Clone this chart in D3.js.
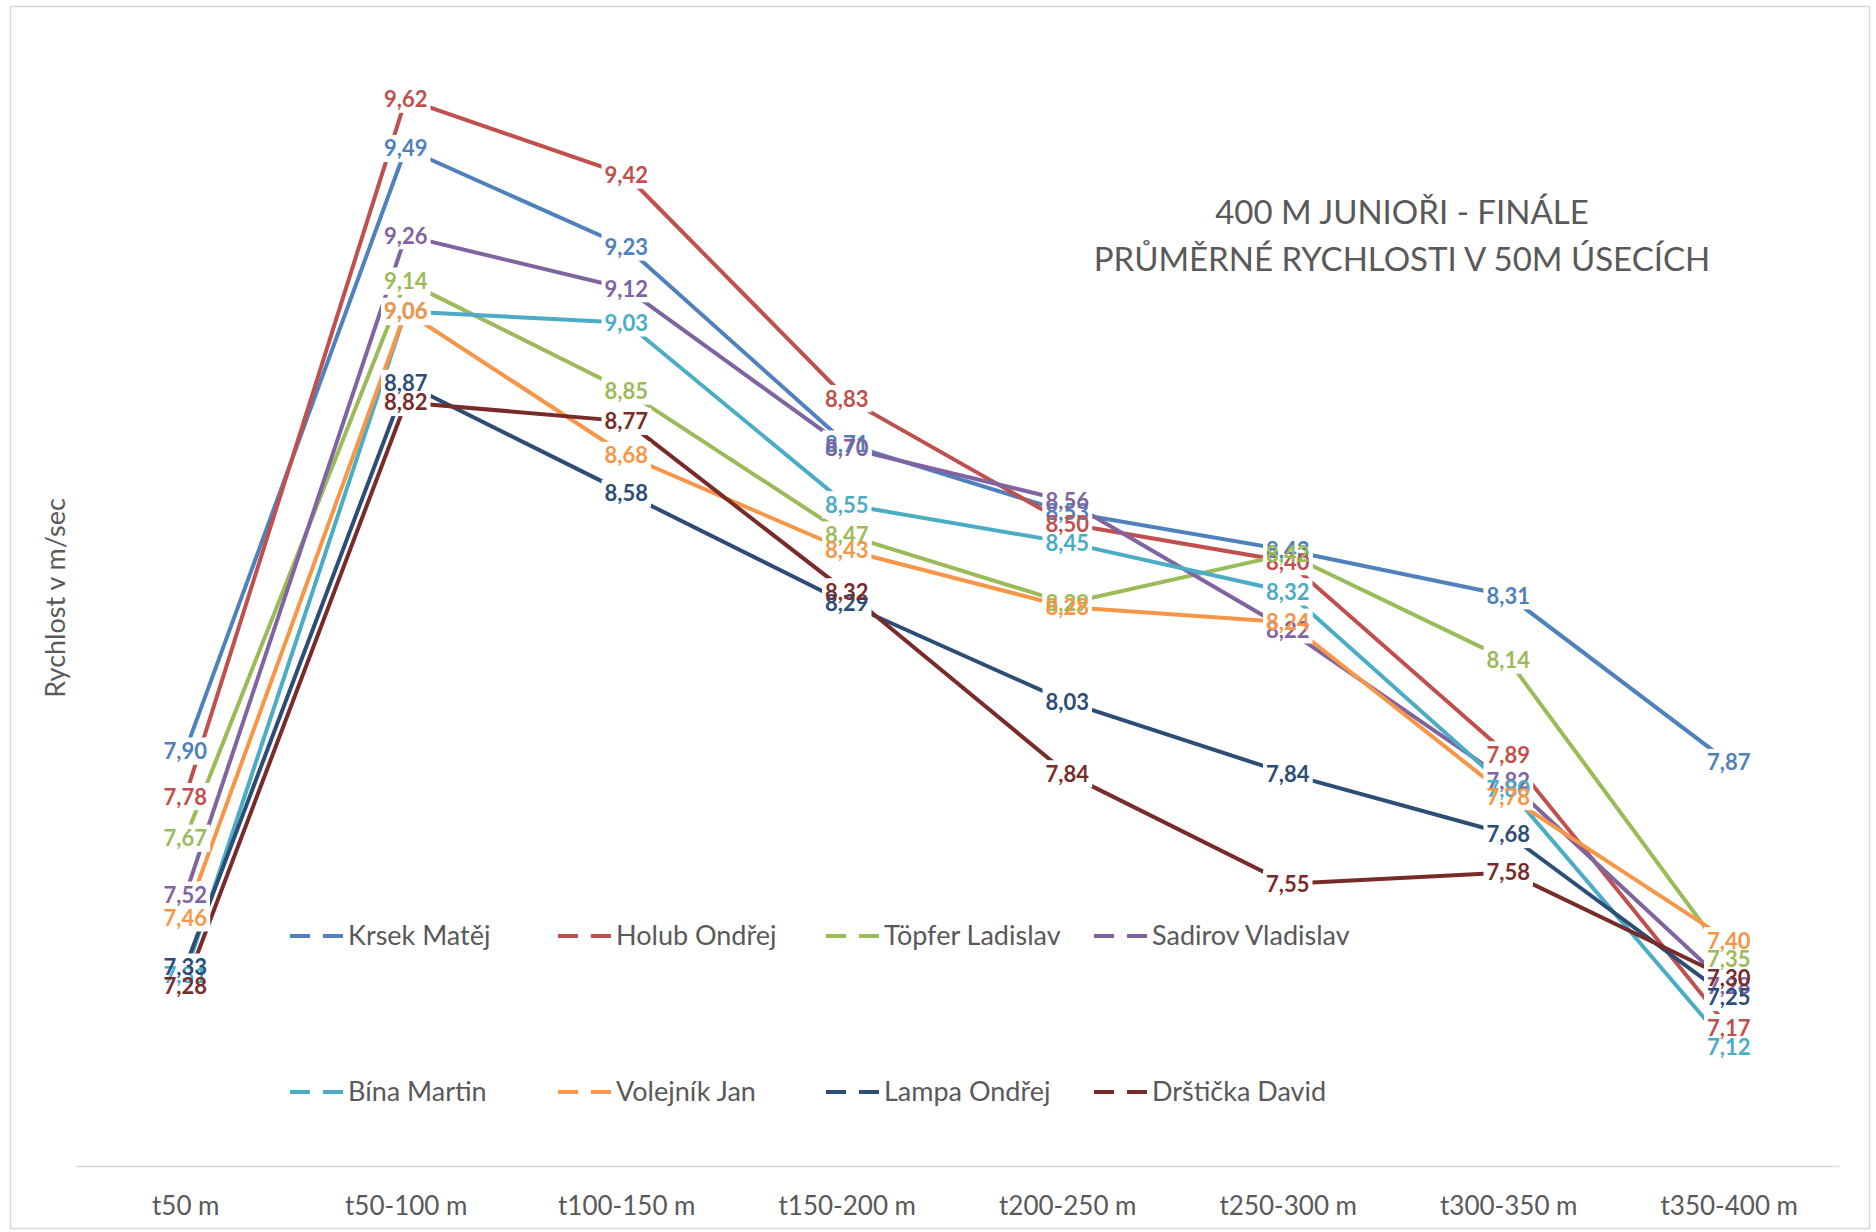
<!DOCTYPE html>
<html>
<head>
<meta charset="utf-8">
<script src="https://cdn.jsdelivr.net/npm/d3@7"></script>
<style>
  html, body { margin: 0; padding: 0; background: #fff; }
  svg { display: block; }
  text { font-family: Lato, "Open Sans", "Noto Sans", sans-serif; }
</style>
</head>
<body>
<svg id="chart" width="1876" height="1232"></svg>
<script>
// ---- data ----
const categories = ["t50 m", "t50-100 m", "t100-150 m", "t150-200 m", "t200-250 m", "t250-300 m", "t300-350 m", "t350-400 m"];
const seriesNames = ["Krsek Matěj", "Holub Ondřej", "Töpfer Ladislav", "Sadirov Vladislav", "Bína Martin", "Volejník Jan", "Lampa Ondřej", "Drštička David"];
const krsek    = [7.90, 9.49, 9.23, 8.71, 8.53, 8.43, 8.31, 7.87];
const holub    = [7.78, 9.62, 9.42, 8.83, 8.50, 8.40, 7.89, 7.17];
const topfer   = [7.67, 9.14, 8.85, 8.47, 8.29, 8.42, 8.14, 7.35];
const sadirov  = [7.52, 9.26, 9.12, 8.70, 8.56, 8.22, 7.82, 7.28];
const bina     = [7.31, 9.06, 9.03, 8.55, 8.45, 8.32, 7.80, 7.12];
const volejnik = [7.46, 9.06, 8.68, 8.43, 8.28, 8.24, 7.78, 7.40];
const lampa    = [7.33, 8.87, 8.58, 8.29, 8.03, 7.84, 7.68, 7.25];
const drsticka = [7.28, 8.82, 8.77, 8.32, 7.84, 7.55, 7.58, 7.30];
const seriesValues = [krsek, holub, topfer, sadirov, bina, volejnik, lampa, drsticka];
const colors = ["#4F81BD", "#C0504D", "#9BBB59", "#8064A2", "#4BACC6", "#F79646", "#2C4D75", "#772C2A"];
const titleLines = ["400 M JUNIOŘI - FINÁLE", "PRŮMĚRNÉ RYCHLOSTI V 50M ÚSECÍCH"];
const yTitle = "Rychlost v m/sec";

// ---- layout ----
const svg = d3.select("#chart");
const W = 1876, H = 1232;
const plot = { left: 75, right: 1839, top: 31, bottom: 1168 };

svg.append("rect").attr("x", 0).attr("y", 0).attr("width", W).attr("height", H).attr("fill", "#fff");
// chart border
svg.append("rect").attr("x", 10.5).attr("y", 6.5).attr("width", 1859).attr("height", 1222)
  .attr("fill", "none").attr("stroke", "#D9D9D9").attr("stroke-width", 1.5);

const x = d3.scalePoint().domain(categories).range([plot.left, plot.right]).padding(0.5);
const y = d3.scaleLinear().domain([6.8, 9.8]).range([plot.bottom, plot.top]);

// x axis
const xAxis = d3.axisBottom(x).tickSize(0).tickPadding(31);
const gx = svg.append("g").attr("transform", `translate(0,${y(6.8) - 2})`).call(xAxis);
gx.select(".domain").attr("stroke", "#D9D9D9").attr("stroke-width", 1.5);
gx.selectAll("text").attr("fill", "#595959").attr("font-size", 26)
  .style("font-family", "Lato, 'Open Sans', sans-serif");

// y axis title
svg.append("text").attr("transform", "translate(54,598) rotate(-90)")
  .attr("text-anchor", "middle").attr("dominant-baseline", "central")
  .attr("fill", "#595959").attr("font-size", 27).text(yTitle);

// chart title
const title = svg.append("text").attr("text-anchor", "middle").attr("fill", "#595959").attr("font-size", 33);
title.selectAll("tspan").data(titleLines).join("tspan")
  .attr("x", 1402).attr("y", (d, i) => 224 + i * 47).text(d => d);

// lines
const line = d3.line().x((d, i) => x(categories[i])).y(d => y(d));
svg.append("g").selectAll("path").data(seriesValues).join("path")
  .attr("d", d => line(d)).attr("fill", "none")
  .attr("stroke", (d, i) => colors[i]).attr("stroke-width", 4)
  .attr("stroke-linejoin", "round");

// data labels: all white boxes first (they cut the lines), then all texts on top
const fmt = v => v.toFixed(2).replace(".", ",");
const fs = 22;
const boxLayer = svg.append("g");
const textLayer = svg.append("g");
seriesValues.forEach((vals, si) => {
  vals.forEach((v, i) => {
    const cx = x(categories[i]), cy = y(v);
    const t = textLayer.append("text").attr("x", cx).attr("y", cy)
      .attr("text-anchor", "middle").attr("dy", "0.36em")
      .attr("font-size", fs).attr("font-weight", "bold").attr("fill", colors[si]).text(fmt(v));
    const bb = t.node().getBBox();
    boxLayer.append("rect").attr("x", bb.x - 3).attr("y", cy - 0.62 * fs)
      .attr("width", bb.width + 6).attr("height", 1.24 * fs).attr("fill", "#fff");
  });
});

// legend
const legend = svg.append("g");
seriesNames.forEach((name, i) => {
  const col = i % 4, row = Math.floor(i / 4);
  const lx = 290 + col * 268, ly = 936 + row * 156;
  const g = legend.append("g").attr("transform", `translate(${lx},${ly})`);
  g.append("line").attr("x1", 0).attr("x2", 20).attr("y1", 0).attr("y2", 0)
    .attr("stroke", colors[i]).attr("stroke-width", 4);
  g.append("line").attr("x1", 33).attr("x2", 53).attr("y1", 0).attr("y2", 0)
    .attr("stroke", colors[i]).attr("stroke-width", 4);
  g.append("text").attr("x", 58).attr("dy", "0.35em").attr("fill", "#595959")
    .attr("font-size", 27).text(name);
});
</script>
</body>
</html>
